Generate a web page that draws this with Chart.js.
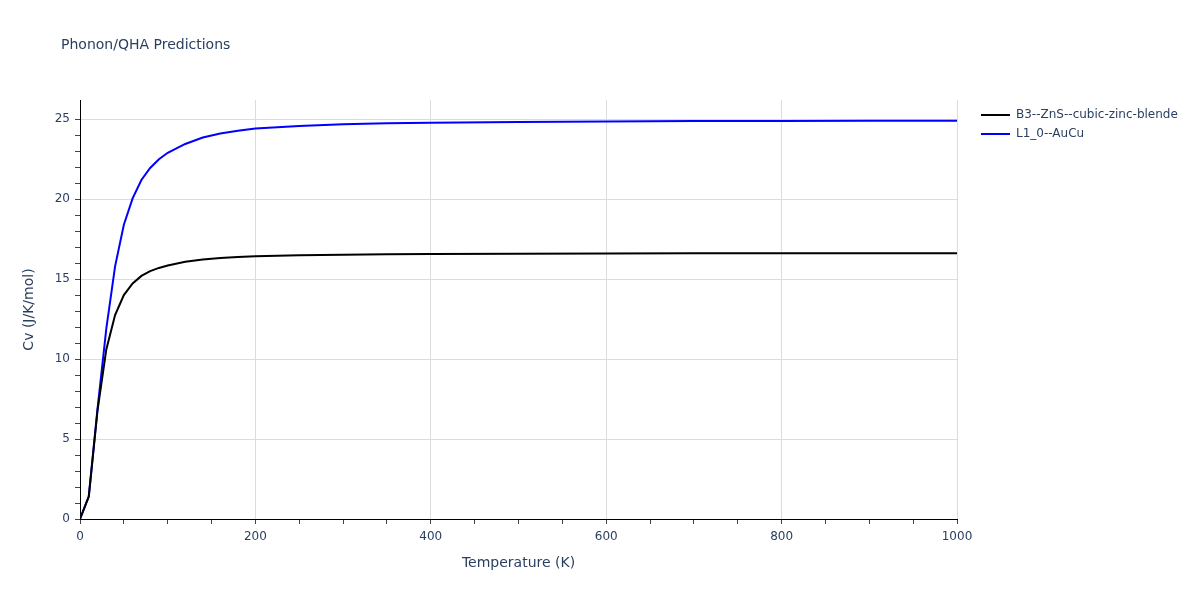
<!DOCTYPE html>
<html>
<head>
<meta charset="utf-8">
<script src="https://cdn.jsdelivr.net/npm/chart.js@4.4.0/dist/chart.umd.min.js"></script>
<style>
    html, body { margin: 0; padding: 0; background: #fff; }
    #wrap { width: 1200px; height: 600px; }
</style>
</head>
<body>
<div id="wrap"><canvas id="cvChart" width="1200" height="600"></canvas></div>
<script>
// --- data ---
const temps = [0, 10, 20, 30, 40, 50, 60, 70, 80, 90, 100, 120, 140, 160, 180, 200, 250, 300, 350, 400, 500, 600, 700, 800, 900, 1000];
const cvZnS = [0, 1.4, 6.8, 10.6, 12.75, 14.0, 14.73, 15.2, 15.5, 15.7, 15.85, 16.08, 16.22, 16.32, 16.39, 16.43, 16.5, 16.53, 16.56, 16.57, 16.59, 16.6, 16.61, 16.61, 16.62, 16.62];
const cvAuCu = [0, 1.4, 6.9, 11.9, 15.8, 18.4, 20.05, 21.2, 21.95, 22.5, 22.9, 23.45, 23.85, 24.1, 24.28, 24.42, 24.58, 24.68, 24.74, 24.78, 24.83, 24.86, 24.88, 24.89, 24.9, 24.91];
const seriesNames = ['B3--ZnS--cubic-zinc-blende', 'L1_0--AuCu'];
const seriesColors = ['#000000', '#0000ff'];

const FONT = '"DejaVu Sans", Verdana, sans-serif';
const TEXT_COLOR = '#2a3f5f';

function toPoints(xs, ys) {
    return xs.map((x, i) => ({ x: x, y: ys[i] }));
}

// titles + legend drawn straight on the canvas, plotly style
const decorPlugin = {
    id: 'decor',
    afterDraw(chart) {
        const ctx = chart.ctx;
        const area = chart.chartArea;
        ctx.save();
        ctx.fillStyle = TEXT_COLOR;

        ctx.font = `14px ${FONT}`;
        ctx.textAlign = 'left';
        ctx.textBaseline = 'middle';
        ctx.fillText('Phonon/QHA Predictions', 61, 45);

        ctx.textAlign = 'center';
        ctx.fillText('Temperature (K)', (area.left + area.right) / 2, 563);

        ctx.save();
        ctx.translate(29, (area.top + area.bottom) / 2);
        ctx.rotate(-Math.PI / 2);
        ctx.fillText('Cv (J/K/mol)', 0, 0);
        ctx.restore();

        ctx.font = `12px ${FONT}`;
        ctx.textAlign = 'left';
        seriesNames.forEach((name, i) => {
            const y = 115 + i * 19;
            ctx.strokeStyle = seriesColors[i];
            ctx.lineWidth = 2;
            ctx.beginPath();
            ctx.moveTo(981, y);
            ctx.lineTo(1010, y);
            ctx.stroke();
            ctx.fillStyle = TEXT_COLOR;
            ctx.fillText(name, 1016, y);
        });
        ctx.restore();
    }
};

const isInt = v => Math.abs(v - Math.round(v)) < 1e-6;

const ctx = document.getElementById('cvChart').getContext('2d');
new Chart(ctx, {
    type: 'line',
    data: {
        datasets: [
            { label: seriesNames[0], data: toPoints(temps, cvZnS), borderColor: seriesColors[0], borderWidth: 2, pointRadius: 0, tension: 0, fill: false },
            { label: seriesNames[1], data: toPoints(temps, cvAuCu), borderColor: seriesColors[1], borderWidth: 2, pointRadius: 0, tension: 0, fill: false }
        ]
    },
    options: {
        responsive: false,
        animation: false,
        layout: { padding: { left: 0, top: 100, right: 243, bottom: 0 } },
        plugins: { legend: { display: false }, tooltip: { enabled: false }, title: { display: false } },
        scales: {
            x: {
                type: 'linear', min: 0, max: 1000,
                afterFit: s => { s.height = 81; },
                border: { display: true, color: '#000', width: 1 },
                grid: {
                    color: c => (c.tick && c.tick.value % 200 === 0 && c.tick.value !== 0) ? '#dcdcdc' : 'rgba(0,0,0,0)',
                    tickColor: '#444', tickLength: 5, drawTicks: true
                },
                ticks: {
                    stepSize: 50, autoSkip: false, maxRotation: 0, padding: 6,
                    color: TEXT_COLOR, font: { family: FONT, size: 12 },
                    callback: v => v % 200 === 0 ? String(v) : ''
                }
            },
            y: {
                type: 'linear', min: 0, max: 26.2,
                afterFit: s => { s.width = 80; },
                border: { display: true, color: '#000', width: 1 },
                grid: {
                    color: c => (c.tick && isInt(c.tick.value) && Math.round(c.tick.value) % 5 === 0 && c.tick.value !== 0) ? '#dcdcdc' : 'rgba(0,0,0,0)',
                    tickColor: c => (c.tick && isInt(c.tick.value)) ? '#444' : 'rgba(0,0,0,0)',
                    tickLength: 5
                },
                ticks: {
                    stepSize: 1, autoSkip: false, padding: 5,
                    color: TEXT_COLOR, font: { family: FONT, size: 12 },
                    callback: v => (isInt(v) && Math.round(v) % 5 === 0) ? String(Math.round(v)) : ''
                }
            }
        }
    },
    plugins: [decorPlugin]
});
</script>
</body>
</html>
